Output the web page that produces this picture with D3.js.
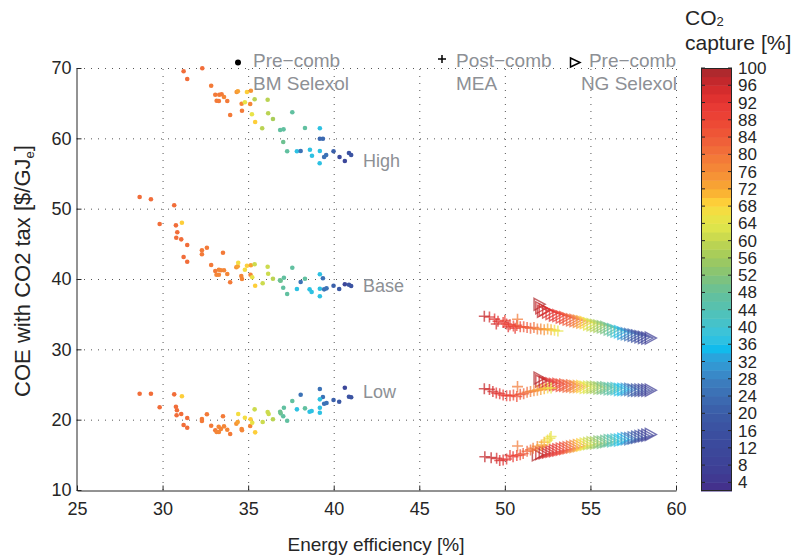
<!DOCTYPE html>
<html>
<head>
<meta charset="utf-8">
<script src="https://cdn.jsdelivr.net/npm/d3@7"></script>
<style>
  body { margin: 0; background: #fff; }
  svg { font-family: "Liberation Sans", Arial, sans-serif; }
</style>
</head>
<body>
<div id="chart"></div>
<script>
// tick labels
const effTicks = [25, 30, 35, 40, 45, 50, 55, 60];
const coeTicks = [10, 20, 30, 40, 50, 60, 70];
const captureTicks = [4, 8, 12, 16, 20, 24, 28, 32, 36, 40, 44, 48, 52, 56, 60, 64, 68, 72, 76, 80, 84, 88, 92, 96, 100];

// colormap stops
const cmapStops = [3, 6, 10, 14, 18, 21, 24, 27, 30, 33, 34.5, 36, 39, 42, 45, 48, 51, 54, 57, 60, 63, 66, 68.5, 70, 73, 76, 79, 82, 85, 88, 91, 94, 97, 100];
const cmapColors = ["#43318c", "#3e3d94", "#3c4599", "#3b4c9e", "#3b55a3", "#3b60aa", "#3c6db3", "#3c7cbd", "#3890cd", "#2aa4dc", "#06b8ef", "#26c0e7", "#3cc3d8", "#4bc2c2", "#58c1ad", "#66c09a", "#7cc280", "#93c668", "#a9cd59", "#c3d650", "#dde44b", "#eee245", "#fed63c", "#fbbd33", "#f7a234", "#f58c37", "#f37a38", "#f0663a", "#ee5536", "#ec4535", "#e83a34", "#dc2e2e", "#c3282c", "#a52a2e"];

// Pre-comb BM Selexol: [efficiency %, COE $/GJe, capture %]
const bmHigh = [
  [31.23, 69.53, 80], [32.32, 69.96, 80], [31.44, 68.44, 80], [32.84, 67.48, 78], [33.08, 66.20, 78],
  [33.31, 66.20, 78], [33.45, 66.26, 78], [33.59, 65.88, 76], [33.16, 65.35, 78], [33.29, 65.31, 78],
  [33.78, 65.31, 78], [33.95, 63.32, 78], [34.33, 66.59, 74], [34.40, 66.69, 72], [34.93, 66.59, 68],
  [35.16, 66.77, 74], [34.62, 64.92, 76], [34.81, 65.12, 64], [35.12, 64.88, 76], [34.64, 63.93, 78],
  [35.38, 65.55, 58], [36.14, 65.49, 58], [35.22, 63.42, 64], [36.17, 63.56, 58], [35.41, 62.32, 68],
  [36.45, 62.75, 56], [35.82, 61.43, 58], [37.58, 63.70, 46], [36.87, 61.18, 46], [37.07, 61.28, 46],
  [37.05, 59.48, 48], [37.28, 58.16, 46], [38.32, 61.47, 46], [39.19, 61.43, 36], [39.19, 59.95, 22],
  [39.37, 59.95, 22], [37.85, 58.16, 36], [38.07, 58.20, 24], [38.61, 58.38, 36], [38.73, 57.53, 36],
  [39.19, 58.20, 36], [39.18, 56.45, 36], [39.56, 57.63, 24], [39.44, 57.35, 24], [39.99, 58.16, 20],
  [40.34, 57.35, 12], [40.65, 56.78, 10], [40.89, 57.91, 16], [41.02, 57.63, 16]
];
const bmBase = [
  [28.66, 51.66, 80], [29.32, 51.33, 80], [30.68, 50.48, 80], [29.83, 47.82, 80], [30.78, 47.63, 80],
  [31.13, 48.00, 68], [30.86, 46.64, 80], [30.80, 45.87, 80], [31.09, 45.64, 80], [31.44, 44.83, 80],
  [31.23, 43.13, 80], [31.44, 42.46, 80], [32.30, 44.08, 78], [32.30, 43.51, 78], [32.59, 44.45, 78],
  [33.53, 43.74, 78], [32.84, 41.99, 78], [33.08, 41.14, 78], [33.29, 41.32, 76], [33.41, 41.24, 76],
  [33.59, 41.24, 76], [33.15, 40.61, 76], [33.29, 40.61, 76], [33.78, 40.71, 76], [33.95, 39.53, 78],
  [34.31, 41.66, 74], [34.39, 41.80, 72], [34.42, 42.32, 66], [34.81, 41.32, 66], [34.93, 41.89, 68],
  [35.16, 41.95, 72], [35.38, 42.09, 60], [34.60, 40.43, 76], [34.64, 40.00, 76], [35.14, 40.61, 76],
  [35.24, 40.24, 64], [35.41, 39.05, 68], [35.85, 39.39, 60], [36.14, 41.75, 60], [36.17, 40.75, 60],
  [36.45, 40.04, 58], [36.86, 39.81, 48], [36.90, 39.76, 48], [37.09, 40.18, 46], [37.05, 38.76, 46],
  [37.28, 37.87, 46], [37.58, 41.61, 46], [37.85, 38.58, 36], [38.07, 39.57, 24], [38.32, 40.04, 46],
  [38.59, 38.53, 36], [38.71, 38.15, 36], [39.19, 40.67, 36], [39.37, 40.10, 24], [39.19, 38.62, 36],
  [39.19, 37.54, 36], [39.44, 38.53, 24], [39.58, 38.67, 24], [39.99, 39.05, 20], [40.32, 38.58, 18],
  [40.65, 39.25, 10], [40.89, 39.19, 16], [41.02, 39.00, 16]
];
const bmLow = [
  [28.66, 23.69, 80], [29.32, 23.69, 80], [30.68, 23.60, 80], [31.13, 23.32, 68], [29.83, 21.76, 80],
  [30.78, 21.84, 80], [30.84, 21.33, 80], [31.09, 20.80, 80], [30.82, 20.62, 80], [31.44, 20.23, 80],
  [31.23, 19.24, 80], [31.44, 18.86, 80], [32.30, 20.09, 78], [32.30, 19.81, 78], [32.59, 20.76, 78],
  [33.53, 20.48, 78], [32.84, 19.14, 78], [33.08, 18.49, 78], [33.28, 19.00, 76], [33.41, 18.67, 76],
  [33.16, 18.24, 76], [33.29, 18.24, 76], [33.59, 19.05, 76], [33.78, 18.57, 76], [33.95, 17.96, 78],
  [34.31, 19.42, 74], [34.39, 19.67, 72], [34.42, 20.80, 66], [34.81, 20.28, 66], [34.62, 18.67, 76],
  [34.64, 18.49, 76], [35.12, 19.10, 76], [35.14, 20.05, 68], [35.24, 19.57, 64], [35.41, 18.20, 68],
  [35.38, 21.47, 60], [35.85, 19.67, 60], [36.14, 21.09, 60], [36.20, 20.80, 60], [36.45, 20.05, 58],
  [36.87, 21.13, 48], [36.90, 20.90, 48], [37.09, 21.70, 46], [37.05, 20.48, 46], [37.28, 19.85, 46],
  [37.58, 22.65, 46], [37.85, 21.47, 36], [38.07, 23.55, 24], [38.32, 21.61, 46], [38.59, 21.13, 36],
  [38.71, 21.23, 36], [39.19, 24.36, 24], [39.37, 23.22, 24], [39.19, 22.89, 36], [39.19, 21.70, 36],
  [39.19, 20.99, 36], [39.44, 22.27, 24], [39.58, 22.37, 24], [39.99, 22.79, 20], [40.32, 22.55, 18],
  [40.65, 24.54, 10], [40.89, 23.26, 16], [41.02, 23.18, 16]
];

// Post-comb MEA
const meaHigh = [
  [48.8, 34.7, 96], [49.1, 34.6, 94], [49.4, 34.3, 92], [49.5, 33.6, 94], [49.6, 34.0, 92],
  [49.9, 33.8, 90], [50.0, 34.1, 88], [50.1, 33.6, 90], [50.2, 33.2, 92], [50.3, 33.5, 88],
  [50.5, 33.3, 88], [50.6, 33.0, 90], [50.7, 33.4, 86], [50.9, 33.2, 86], [51.1, 33.2, 84],
  [51.3, 33.1, 84], [51.5, 33.0, 82], [51.7, 33.1, 80], [51.9, 32.9, 78], [52.1, 32.9, 76],
  [52.3, 32.8, 74], [52.5, 32.9, 72], [52.7, 32.8, 70], [52.9, 32.7, 66], [53.1, 32.6, 64],
  [50.74, 34.27, 78]
];
const meaBase = [
  [48.8, 24.4, 96], [49.1, 24.3, 94], [49.3, 24.0, 94], [49.5, 23.8, 92], [49.7, 23.7, 92],
  [49.9, 23.5, 90], [50.1, 23.4, 90], [50.3, 23.4, 88], [50.5, 23.5, 86], [50.7, 23.3, 86],
  [50.9, 23.6, 84], [51.1, 23.7, 82], [51.3, 23.9, 80], [51.5, 24.0, 78], [51.7, 24.1, 76],
  [51.9, 24.2, 74], [52.1, 24.3, 72], [52.3, 24.4, 70], [52.5, 24.5, 66], [52.7, 24.5, 64],
  [50.74, 24.7, 78]
];
const meaLow = [
  [48.83, 14.73, 96], [49.2, 14.6, 96], [49.52, 14.5, 94], [49.7, 14.2, 94], [49.9, 14.26, 92],
  [50.1, 14.4, 92], [50.3, 14.9, 90], [50.48, 14.73, 90], [50.7, 14.9, 88], [50.9, 15.0, 86],
  [51.07, 15.2, 84], [51.3, 15.5, 82], [51.5, 15.7, 80], [51.65, 15.93, 78], [51.9, 16.2, 76],
  [52.14, 16.4, 72], [52.3, 16.8, 70], [52.5, 17.1, 66], [52.63, 17.35, 64], [52.7, 17.6, 64],
  [50.74, 16.25, 78]
];

// Pre-comb NG Selexol
const ngHigh = [
  [52.0, 36.4, 98], [52.1, 35.9, 96], [52.2, 35.4, 96], [52.3, 35.6, 94], [52.5, 35.3, 94],
  [52.7, 35.1, 92], [52.9, 34.9, 92], [53.1, 34.8, 90], [53.3, 34.6, 88], [53.5, 34.5, 86],
  [53.7, 34.3, 84], [53.9, 34.2, 82], [54.1, 34.1, 80], [54.3, 34.0, 76], [54.5, 33.9, 72],
  [54.7, 33.8, 68], [54.9, 33.6, 64], [55.1, 33.5, 60], [55.3, 33.4, 58], [55.5, 33.3, 56],
  [55.7, 33.2, 52], [55.9, 33.1, 50], [56.1, 32.9, 48], [56.3, 32.8, 44], [56.5, 32.6, 40],
  [56.7, 32.5, 36], [56.9, 32.3, 32], [57.1, 32.2, 28], [57.3, 32.1, 24], [57.5, 32.0, 20],
  [57.7, 31.9, 16], [57.9, 31.8, 12], [58.1, 31.7, 10], [58.3, 31.6, 8], [58.5, 31.6, 6]
];
const ngBase = [
  [52.0, 25.9, 98], [52.1, 25.5, 96], [52.3, 25.3, 96], [52.5, 25.2, 94], [52.7, 25.1, 92],
  [52.9, 25.0, 90], [53.1, 25.0, 88], [53.3, 24.9, 86], [53.5, 24.9, 84], [53.7, 24.8, 82],
  [53.9, 24.8, 80], [54.1, 24.7, 76], [54.3, 24.7, 72], [54.5, 24.7, 68], [54.7, 24.6, 64],
  [54.9, 24.6, 62], [55.1, 24.6, 58], [55.3, 24.6, 56], [55.5, 24.5, 54], [55.7, 24.5, 50],
  [55.9, 24.5, 48], [56.1, 24.4, 46], [56.3, 24.4, 44], [56.5, 24.4, 40], [56.7, 24.3, 36],
  [56.9, 24.3, 34], [57.1, 24.3, 30], [57.3, 24.3, 26], [57.5, 24.2, 22], [57.7, 24.2, 18],
  [57.9, 24.2, 14], [58.1, 24.2, 10], [58.3, 24.2, 8], [58.5, 24.2, 6]
];
const ngLow = [
  [51.9, 15.0, 98], [52.1, 15.2, 96], [52.3, 15.3, 96], [52.5, 15.4, 94], [52.7, 15.5, 92],
  [52.9, 15.6, 92], [53.1, 15.7, 90], [53.3, 15.8, 88], [53.5, 15.9, 86], [53.7, 16.0, 84],
  [53.9, 16.1, 80], [54.1, 16.2, 76], [54.3, 16.3, 72], [54.5, 16.4, 68], [54.7, 16.5, 64],
  [54.9, 16.6, 60], [55.1, 16.7, 58], [55.3, 16.7, 56], [55.5, 16.8, 52], [55.7, 16.8, 50],
  [55.9, 16.9, 48], [56.1, 17.0, 46], [56.3, 17.0, 42], [56.5, 17.1, 40], [56.7, 17.1, 36],
  [56.9, 17.2, 34], [57.1, 17.3, 30], [57.3, 17.3, 26], [57.5, 17.4, 22], [57.7, 17.5, 18],
  [57.9, 17.6, 14], [58.1, 17.7, 10], [58.3, 17.8, 8], [58.5, 17.9, 6]
];

// tax level labels
const taxLabels = [["High", 56.8], ["Base", 39.05], ["Low", 23.97]];

const W = 798, H = 559;
const svg = d3.select("#chart").append("svg").attr("width", W).attr("height", H);

const x = d3.scaleLinear().domain([25, 60]).range([77, 676]);
const y = d3.scaleLinear().domain([10, 70]).range([490, 68]);
const cbY = d3.scaleLinear().domain([2, 100]).range([491, 68]);
const cmap = d3.scaleLinear().domain(cmapStops).range(cmapColors).clamp(true);
// colour bar is banded in steps of 2
const band = v => cmap(Math.floor(v / 2) * 2 + 1);

const ink = "#262626", grey = "#8d9095";

// grid
const grid = svg.append("g").attr("stroke", "#555").attr("stroke-width", 1).attr("stroke-dasharray", "1,6");
grid.selectAll("line.v").data(effTicks.slice(1)).join("line")
  .attr("x1", d => x(d) + 0.5).attr("x2", d => x(d) + 0.5).attr("y1", y(10)).attr("y2", y(70));
grid.selectAll("line.h").data(coeTicks.slice(1)).join("line")
  .attr("y1", d => y(d) + 0.5).attr("y2", d => y(d) + 0.5).attr("x1", x(25)).attr("x2", x(60));

// axes
const xAxis = svg.append("g").attr("transform", `translate(0,${y(10) + 0.5})`)
  .call(d3.axisBottom(x).tickValues(effTicks).tickSizeInner(-5).tickSizeOuter(0).tickPadding(12));
const yAxis = svg.append("g").attr("transform", `translate(${x(25) - 0.5},0)`)
  .call(d3.axisLeft(y).tickValues(coeTicks).tickSizeInner(-5).tickSizeOuter(0).tickPadding(5));
[xAxis, yAxis].forEach(a => {
  a.select(".domain").attr("stroke", ink);
  a.selectAll(".tick line").attr("stroke", ink);
  a.selectAll(".tick text").attr("fill", ink).style("font-size", "18px").style("font-family", "Liberation Sans, Arial, sans-serif");
});
xAxis.selectAll(".tick text").attr("dy", "0.71em");

// axis titles
svg.append("text").attr("x", 376).attr("y", 551).attr("text-anchor", "middle")
  .attr("fill", ink).style("font-size", "19px").text("Energy efficiency [%]");
const yl = svg.append("text").attr("transform", "translate(30,271) rotate(-90)").attr("text-anchor", "middle")
  .attr("fill", ink).style("font-size", "22px");
yl.append("tspan").text("COE with CO2 tax [$/GJ");
yl.append("tspan").attr("dy", 4).style("font-size", "13px").text("e");
yl.append("tspan").attr("dy", -4).text("]");

// BM Selexol dots
const plot = svg.append("g");
[bmHigh, bmBase, bmLow].forEach(series => {
  plot.append("g").selectAll("circle").data(series).join("circle")
    .attr("cx", d => x(d[0])).attr("cy", d => y(d[1])).attr("r", 2.3)
    .attr("fill", d => band(d[2]));
});

// NG Selexol triangles
const triPath = "M-5,-6L6,0L-5,6Z";
[ngHigh, ngBase, ngLow].forEach(series => {
  plot.append("g").selectAll("path").data(series).join("path")
    .attr("d", triPath).attr("transform", d => `translate(${x(d[0])},${y(d[1])})`)
    .attr("fill", "none").attr("stroke", d => band(d[2]))
    .attr("stroke-width", 1.5).attr("stroke-opacity", 0.72);
});

// MEA plus markers
const plusPath = "M-5.5,0H5.5M0,-5.5V5.5";
[meaHigh, meaBase, meaLow].forEach(series => {
  plot.append("g").selectAll("path").data(series).join("path")
    .attr("d", plusPath).attr("transform", d => `translate(${x(d[0])},${y(d[1])})`)
    .attr("fill", "none").attr("stroke", d => band(d[2]))
    .attr("stroke-width", 1.6).attr("stroke-opacity", 0.72);
});

// tax labels
svg.append("g").selectAll("text").data(taxLabels).join("text")
  .attr("x", 363).attr("y", d => y(d[1]) + 6)
  .attr("fill", grey).style("font-size", "18px").text(d => d[0]);

// legend
const leg = svg.append("g").attr("fill", grey).style("font-size", "19px");
svg.append("circle").attr("cx", 238).attr("cy", 62.5).attr("r", 3).attr("fill", "#000");
leg.append("text").attr("x", 253).attr("y", 67).text("Pre\u2212comb");
leg.append("text").attr("x", 253).attr("y", 90).text("BM Selexol");
svg.append("path").attr("d", "M-4,0H4M0,-4V4").attr("transform", "translate(442,59)")
  .attr("stroke", "#000").attr("stroke-width", 1.5);
leg.append("text").attr("x", 456).attr("y", 67).text("Post\u2212comb");
leg.append("text").attr("x", 456).attr("y", 90).text("MEA");
svg.append("path").attr("d", "M-4.5,-4.5L5,0L-4.5,4.5Z").attr("transform", "translate(575,62.5)")
  .attr("fill", "none").attr("stroke", "#000").attr("stroke-width", 1.5);
leg.append("text").attr("x", 676).attr("y", 67).attr("text-anchor", "end").text("Pre\u2212comb");
leg.append("text").attr("x", 677).attr("y", 90).attr("text-anchor", "end").text("NG Selexol");

// colour bar
const cbX0 = 701, cbX1 = 732;
const bands = d3.range(2, 100, 2);
svg.append("g").selectAll("rect").data(bands).join("rect")
  .attr("x", cbX0).attr("width", cbX1 - cbX0)
  .attr("y", d => cbY(d + 2)).attr("height", d => cbY(d) - cbY(d + 2) + 0.5)
  .attr("fill", d => band(d));
svg.append("rect").attr("x", cbX0 + 0.5).attr("y", cbY(100) + 0.5)
  .attr("width", cbX1 - cbX0 - 1).attr("height", cbY(2) - cbY(100) - 1)
  .attr("fill", "none").attr("stroke", ink);
const cbt = svg.append("g");
cbt.selectAll("line.l").data(captureTicks).join("line")
  .attr("x1", cbX0).attr("x2", cbX0 + 4).attr("y1", d => cbY(d)).attr("y2", d => cbY(d))
  .attr("stroke", ink);
cbt.selectAll("line.r").data(captureTicks).join("line")
  .attr("x1", cbX1 - 4).attr("x2", cbX1).attr("y1", d => cbY(d)).attr("y2", d => cbY(d))
  .attr("stroke", ink);
cbt.selectAll("text").data(captureTicks).join("text")
  .attr("x", 738).attr("y", d => cbY(d) + 6)
  .attr("fill", ink).style("font-size", "17px").text(d => d);

// colour bar title
const ct = svg.append("text").attr("x", 685).attr("y", 25).attr("fill", ink).style("font-size", "21px");
ct.append("tspan").text("CO");
ct.append("tspan").attr("dy", 1).style("font-size", "13px").text("2");
svg.append("text").attr("x", 685).attr("y", 50).attr("fill", ink).style("font-size", "21px").text("capture [%]");
</script>
</body>
</html>
